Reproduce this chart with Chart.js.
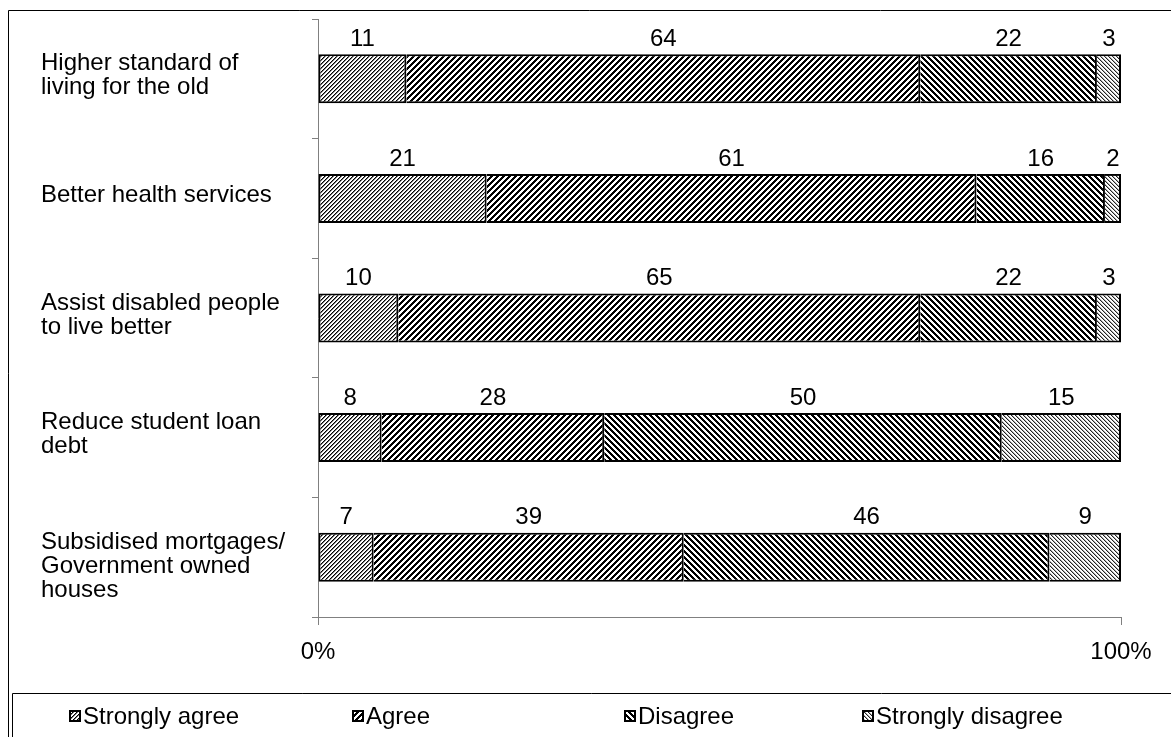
<!DOCTYPE html>
<html>
<head>
<meta charset="utf-8">
<script src="https://cdn.jsdelivr.net/npm/chart.js@4"></script>
<style>
  html, body { margin: 0; padding: 0; background: #fff; }
  canvas { display: block; }
</style>
</head>
<body>
<canvas id="c" width="1171" height="737"></canvas>
<script>
// Survey categories (one multi-line label per row)
const categories = [
  ['Higher standard of', 'living for the old'],
  'Better health services',
  ['Assist disabled people', 'to live better'],
  ['Reduce student loan', 'debt'],
  ['', 'Subsidised mortgages/', 'Government owned', 'houses']
];

// Responses per category (%)
const seriesNames = ['Strongly agree', 'Agree', 'Disagree', 'Strongly disagree'];
const stronglyAgree    = [11, 21, 10, 8, 7];
const agree            = [64, 61, 65, 28, 39];
const disagree         = [22, 16, 22, 50, 46];
const stronglyDisagree = [3, 2, 3, 15, 9];

const xTickLabels = ['0%', '100%'];

const FONT = '"Liberation Sans", Arial, sans-serif';
const FONT_SIZE = 24;
const canvas = document.getElementById('c');
const ctx = canvas.getContext('2d');

// Diagonal hatch fill built pixel by pixel; dir 1 = "/", -1 = "\"
function hatch(period, dir, bands) {
  const t = document.createElement('canvas');
  t.width = t.height = period;
  const g = t.getContext('2d');
  g.fillStyle = '#fff';
  g.fillRect(0, 0, period, period);
  for (let y = 0; y < period; y++) {
    for (let x = 0; x < period; x++) {
      const k = dir > 0 ? (x + y) % period : (((x - y) % period) + period) % period;
      if (bands[k]) { g.fillStyle = bands[k]; g.fillRect(x, y, 1, 1); }
    }
  }
  return ctx.createPattern(t, 'repeat');
}

const fills = [
  hatch(4, 1, { 0: '#000', 1: '#7a7a7a' }),
  hatch(6, 1, { 0: '#000', 1: '#000', 2: '#000' }),
  hatch(6, -1, { 0: '#000', 1: '#000', 2: '#000' }),
  hatch(4, -1, { 0: '#222', 1: '#b0b0b0' })
];

const rawSeries = [stronglyAgree, agree, disagree, stronglyDisagree];
const rowTotals = categories.map((_, i) => rawSeries.reduce((s, arr) => s + arr[i], 0));

const datasets = rawSeries.map((arr, si) => ({
  label: seriesNames[si],
  raw: arr,
  data: arr.map((v, i) => v / rowTotals[i] * 100),
  backgroundColor: fills[si],
  borderColor: '#000',
  borderWidth: 2,
  borderSkipped: si === 0 ? false : 'start',
  barPercentage: 0.41,
  categoryPercentage: 1.0
}));

// Value labels above each segment
const valueLabels = {
  id: 'valueLabels',
  afterDatasetsDraw(chart) {
    const c = chart.ctx;
    c.save();
    c.font = FONT_SIZE + 'px ' + FONT;
    c.fillStyle = '#000';
    c.textAlign = 'center';
    c.textBaseline = 'middle';
    chart.data.datasets.forEach((ds, di) => {
      chart.getDatasetMeta(di).data.forEach((el, i) => {
        const p = el.getProps(['x', 'y', 'base', 'height'], true);
        const cx = (p.x + p.base) / 2;
        const top = p.y - p.height / 2;
        c.fillText(String(ds.raw[i]), cx, top - 15);
      });
    });
    c.restore();
  }
};

// Outer frame and boxed legend along the bottom
const frameLegend = {
  id: 'frameLegend',
  afterDraw(chart) {
    const c = chart.ctx;
    const W = chart.width, H = chart.height;
    c.save();
    c.strokeStyle = '#000';
    c.lineWidth = 1;
    c.beginPath();
    c.moveTo(8.5, H); c.lineTo(8.5, 10.5); c.lineTo(W, 10.5);
    c.stroke();
    c.beginPath();
    c.moveTo(12.5, H); c.lineTo(12.5, 693.5); c.lineTo(W, 693.5);
    c.stroke();

    const boxX = [69, 352, 624, 862];
    const cy = 716;
    const bs = 12;
    c.font = FONT_SIZE + 'px ' + FONT;
    c.textAlign = 'left';
    c.textBaseline = 'middle';
    chart.data.datasets.forEach((ds, i) => {
      const x = boxX[i];
      const y = cy - bs / 2;
      c.fillStyle = ds.backgroundColor;
      c.fillRect(x, y, bs, bs);
      c.strokeStyle = '#000';
      c.lineWidth = 2;
      c.strokeRect(x + 1, y + 1, bs - 2, bs - 2);
      c.fillStyle = '#000';
      c.fillText(ds.label, x + 14, cy + 1);
    });
    c.restore();
  }
};

new Chart(canvas, {
  type: 'bar',
  data: { labels: categories, datasets },
  options: {
    responsive: false,
    animation: false,
    devicePixelRatio: 1,
    indexAxis: 'y',
    layout: { padding: { left: 41, right: 50, top: 19, bottom: 75 } },
    plugins: { legend: { display: false }, tooltip: { enabled: false } },
    scales: {
      x: {
        stacked: true,
        min: 0,
        max: 100,
        ticks: {
          stepSize: 100,
          padding: 13,
          color: '#000',
          font: { family: FONT, size: FONT_SIZE, lineHeight: 1.2 },
          callback: (v, idx) => xTickLabels[idx]
        },
        grid: { drawOnChartArea: false, tickLength: 8, color: '#808080' },
        border: { color: '#808080' },
        afterFit(s) { s.height = 45; s.paddingLeft = 0; s.paddingRight = 0; }
      },
      y: {
        stacked: true,
        ticks: {
          crossAlign: 'far',
          labelOffset: -3,
          color: '#000',
          font: { family: FONT, size: FONT_SIZE, lineHeight: 1.0 }
        },
        grid: { drawOnChartArea: false, tickLength: 6, color: '#808080', offset: true },
        border: { color: '#808080' },
        afterFit(s) { s.width = 277; s.paddingTop = 0; s.paddingBottom = 0; }
      }
    }
  },
  plugins: [valueLabels, frameLegend]
});
</script>
</body>
</html>
